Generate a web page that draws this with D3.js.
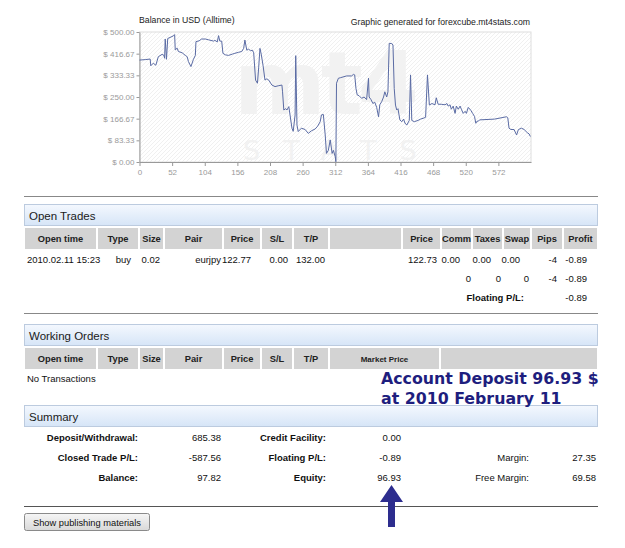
<!DOCTYPE html>
<html>
<head>
<meta charset="utf-8">
<script src="https://cdn.jsdelivr.net/npm/d3@7"></script>
<style>
body { margin: 0; background: #fff; }
text { font-family: "Liberation Sans", Arial, sans-serif; }
</style>
</head>
<body>
<div class="canvas"></div>
<script>
// balance curve, [trade number, balance in USD]
const balancePoints = [
    [0,392],[10,394],[17,396],[18,370],[22,380],[26,372],[30,405],[36,414],[39,410],[40,399],
    [41,473],[43,395],[45,475],[54,485],[56,490],[57,431],[60,438],[62,425],[68,420],[73,410],
    [76,405],[78,386],[82,367],[86,395],[89,410],[90,463],[95,466],[99,473],[105,473],[110,470],
    [118,465],[120,468],[124,462],[126,486],[128,465],[131,465],[133,418],[137,412],[142,410],[148,415],
    [152,418],[158,422],[163,425],[166,437],[168,469],[171,430],[174,434],[177,428],[180,430],[182,420],
    [185,315],[188,303],[190,365],[192,437],[194,415],[197,370],[200,315],[203,320],[206,315],[211,296],
    [216,290],[221,293],[227,296],[228,270],[230,200],[233,205],[235,200],[238,213],[243,130],[245,118],
    [248,181],[249,409],[251,142],[253,117],[258,130],[264,125],[269,110],[274,120],[280,127],[284,138],
    [288,155],[290,181],[293,183],[296,104],[298,33],[301,45],[304,85],[307,33],[309,45],[312,20],
    [313,1],[314,303],[317,322],[320,324],[330,331],[338,331],[341,337],[343,335],[345,283],[347,258],
    [350,255],[354,245],[358,250],[362,240],[365,322],[366,250],[369,240],[372,225],[375,230],[378,210],
    [381,174],[383,220],[386,232],[389,250],[391,270],[394,250],[396,270],[398,456],[402,456],[404,450],
    [406,283],[408,219],[410,200],[412,205],[415,162],[418,155],[421,165],[423,150],[426,142],[430,160],
    [432,335],[434,160],[438,155],[444,160],[448,165],[452,168],[456,172],[459,335],[462,219],[466,225],
    [471,220],[473,247],[476,222],[481,222],[487,220],[490,225],[492,215],[495,220],[497,203],[500,215],
    [503,187],[505,215],[508,203],[511,215],[513,203],[516,187],[519,195],[521,187],[524,210],[528,199],
    [531,187],[534,175],[536,149],[538,157],[540,157],[542,162],[566,165],[585,174],[587,170],[589,130],
    [592,125],[597,125],[601,104],[604,125],[609,130],[613,125],[618,113],[621,108],[623,98]
]
const yTicks = [0, 83.33, 166.67, 250, 333.33, 416.67, 500]
const xTicks = [0, 52, 104, 156, 208, 260, 312, 364, 416, 468, 520, 572]

// tables
const tradeHeaders = ['Open time', 'Type', 'Size', 'Pair', 'Price', 'S/L', 'T/P', '', 'Price', 'Comm', 'Taxes', 'Swap', 'Pips', 'Profit']
const tradeRow = ['2010.02.11 15:23', 'buy', '0.02', 'eurjpy', '122.77', '0.00', '132.00', '122.73', '0.00', '0.00', '0.00', '-4', '-0.89']
const totalsRow = ['0', '0', '0', '-4', '-0.89']
const floatingRow = ['Floating P/L:', '-0.89']
const orderHeaders = ['Open time', 'Type', 'Size', 'Pair', 'Price', 'S/L', 'T/P', 'Market Price', '']
const summaryLabels = [
    ['Deposit/Withdrawal:', 'Credit Facility:', ''],
    ['Closed Trade P/L:', 'Floating P/L:', 'Margin:'],
    ['Balance:', 'Equity:', 'Free Margin:']
]
const summaryValues = [
    ['685.38', '0.00', ''],
    ['-587.56', '-0.89', '27.35'],
    ['97.82', '96.93', '69.58']
]
const note = ['Account Deposit 96.93 $', 'at 2010 February 11']

// layout
const tradeEdges = [24, 97, 139, 164, 223, 261, 293, 329, 402, 441, 472, 503, 531, 563, 598]
const orderEdges = [24, 97, 139, 164, 223, 261, 293, 329, 440, 598]
const tradeRowX = [27, 131, 160, 221, 251, 288, 325, 437, 460, 491, 520, 557, 587]
const totalsX = [471, 501, 529, 557, 587]
const summaryLabelX = [138, 326, 529]
const summaryValueX = [221, 401, 596]

const svg = d3.select('.canvas')
    .append('svg')
    .attr('width', 625)
    .attr('height', 548)

const defs = svg.append('defs')

const hatch = defs.append('pattern')
    .attr('id', 'hatch')
    .attr('width', 4)
    .attr('height', 4)
    .attr('patternUnits', 'userSpaceOnUse')
hatch.append('path')
    .attr('d', 'M-1,1 L1,-1 M0,4 L4,0 M3,5 L5,3')
    .attr('stroke', '#ececec')
    .attr('stroke-width', 0.8)

const barGrad = defs.append('linearGradient')
    .attr('id', 'bar').attr('x1', 0).attr('y1', 0).attr('x2', 0).attr('y2', 1)
barGrad.append('stop').attr('offset', '0%').attr('stop-color', '#f4f8fe')
barGrad.append('stop').attr('offset', '100%').attr('stop-color', '#d6e5f7')

const btnGrad = defs.append('linearGradient')
    .attr('id', 'btn').attr('x1', 0).attr('y1', 0).attr('x2', 0).attr('y2', 1)
btnGrad.append('stop').attr('offset', '0%').attr('stop-color', '#f6f6f6')
btnGrad.append('stop').attr('offset', '100%').attr('stop-color', '#d8d8d8')

// ---------- chart ----------
const plot = { left: 139.5, right: 531, top: 32, bottom: 162 }

const x = d3.scaleLinear().domain([0, 624]).range([plot.left, plot.right])
const y = d3.scaleLinear().domain([0, 500]).range([plot.bottom, plot.top])

svg.append('rect')
    .attr('x', plot.left)
    .attr('y', plot.top)
    .attr('width', plot.right - plot.left)
    .attr('height', plot.bottom - plot.top)
    .attr('fill', 'url(#hatch)')
    .attr('stroke', '#dedede')

// watermark (very faint)
svg.append('text')
    .attr('x', 234).attr('y', 114)
    .style('font-family', '"DejaVu Sans", sans-serif')
    .attr('font-weight', 'bold')
    .attr('font-size', 88)
    .attr('letter-spacing', -5)
    .attr('fill', '#f2f2f2')
    .text('mt4')
svg.append('text')
    .attr('x', 243).attr('y', 160)
    .style('font-family', '"DejaVu Sans", sans-serif')
    .attr('font-size', 27)
    .attr('letter-spacing', 23)
    .attr('fill', '#f2f2f2')
    .text('STATS')

svg.append('text')
    .attr('x', 139).attr('y', 23)
    .attr('font-size', 8.7)
    .attr('fill', '#222')
    .text('Balance in USD (Alltime)')

svg.append('text')
    .attr('x', 530).attr('y', 25)
    .attr('text-anchor', 'end')
    .attr('font-size', 8.7)
    .attr('fill', '#222')
    .text('Graphic generated for forexcube.mt4stats.com')

const yAxis = d3.axisLeft(y)
    .tickValues(yTicks)
    .tickSize(3)
    .tickSizeOuter(0)
    .tickFormat(d => '$ ' + d.toFixed(2))

const xAxis = d3.axisBottom(x)
    .tickValues(xTicks)
    .tickSize(4)
    .tickSizeOuter(0)

const yAxisGroup = svg.append('g')
    .attr('transform', `translate(${plot.left}, 0)`)
    .call(yAxis)
const xAxisGroup = svg.append('g')
    .attr('transform', `translate(0, ${plot.bottom})`)
    .call(xAxis)

;[yAxisGroup, xAxisGroup].forEach(g => {
    g.select('.domain').attr('stroke', '#999')
    g.selectAll('.tick line').attr('stroke', '#999')
    g.selectAll('text')
        .attr('fill', '#9a9a9a')
        .attr('font-size', 8)
})
yAxisGroup.selectAll('text').attr('x', -5)
xAxisGroup.selectAll('text').attr('y', 7)

const line = d3.line()
    .x(d => x(d[0]))
    .y(d => y(d[1]))

svg.append('path')
    .datum(balancePoints)
    .attr('fill', 'none')
    .attr('stroke', '#5a6ba4')
    .attr('stroke-width', 1)
    .attr('d', line)

// ---------- tables ----------
const rule = (yy, color) => svg.append('line')
    .attr('x1', 24).attr('x2', 598)
    .attr('y1', yy).attr('y2', yy)
    .attr('stroke', color)

const sectionBar = (top, label) => {
    svg.append('rect')
        .attr('x', 24.5).attr('y', top + 0.5)
        .attr('width', 573).attr('height', 21)
        .attr('fill', 'url(#bar)')
        .attr('stroke', '#bccbdf')
    svg.append('text')
        .attr('x', 29).attr('y', top + 15.5)
        .attr('font-size', 11.5)
        .attr('fill', '#1a1a1a')
        .text(label)
}

const headerRow = (top, edges, labels) => {
    const cells = svg.append('g')
    labels.forEach((label, i) => {
        const x0 = edges[i], x1 = edges[i + 1]
        cells.append('rect')
            .attr('x', x0 + 1).attr('y', top)
            .attr('width', x1 - x0 - 2).attr('height', 21)
            .attr('fill', '#d3d3d3')
        cells.append('text')
            .attr('x', (x0 + x1) / 2).attr('y', top + 14)
            .attr('text-anchor', 'middle')
            .attr('font-weight', 'bold')
            .attr('font-size', label === 'Market Price' ? 8 : 9.3)
            .attr('fill', '#222')
            .text(label)
    })
}

const cell = (xx, yy, str, anchor, bold) => svg.append('text')
    .attr('x', xx).attr('y', yy)
    .attr('text-anchor', anchor)
    .attr('font-weight', bold ? 'bold' : 'normal')
    .attr('font-size', 9.5)
    .attr('fill', '#111')
    .text(str)

rule(196.5, '#888')

// open trades
sectionBar(204, 'Open Trades')
headerRow(228, tradeEdges, tradeHeaders)
tradeRow.forEach((v, i) => cell(tradeRowX[i], 263, v, i === 0 ? 'start' : 'end', false))
totalsRow.forEach((v, i) => cell(totalsX[i], 282, v, 'end', false))
cell(524, 301, floatingRow[0], 'end', true)
cell(587, 301, floatingRow[1], 'end', false)

rule(313.5, '#888')

// working orders
sectionBar(324, 'Working Orders')
headerRow(348, orderEdges, orderHeaders)
cell(27, 382, 'No Transactions', 'start', false)

// summary
sectionBar(405, 'Summary')
summaryLabels.forEach((row, r) => {
    row.forEach((label, c) => {
        if (label) cell(summaryLabelX[c], 441 + r * 20, label, 'end', c < 2)
        if (summaryValues[r][c]) cell(summaryValueX[c], 441 + r * 20, summaryValues[r][c], 'end', false)
    })
})

rule(506.5, '#555')

// button
svg.append('rect')
    .attr('x', 24.5).attr('y', 513.5)
    .attr('width', 125).attr('height', 17)
    .attr('rx', 2)
    .attr('fill', 'url(#btn)')
    .attr('stroke', '#8a8a8a')
svg.append('text')
    .attr('x', 87).attr('y', 525.5)
    .attr('text-anchor', 'middle')
    .attr('font-size', 9.3)
    .attr('fill', '#111')
    .text('Show publishing materials')

// annotation
note.forEach((t, i) => svg.append('text')
    .attr('x', 381).attr('y', 384 + i * 20)
    .style('font-family', '"DejaVu Sans", sans-serif')
    .attr('font-weight', 'bold')
    .attr('font-size', 15.8)
    .attr('fill', '#1e1e7e')
    .text(t))

svg.append('path')
    .attr('d', 'M391.5,485 L403,502 L395,502 L395,527 L388,527 L388,502 L380,502 Z')
    .attr('fill', '#2d2d8e')
</script>
</body>
</html>
